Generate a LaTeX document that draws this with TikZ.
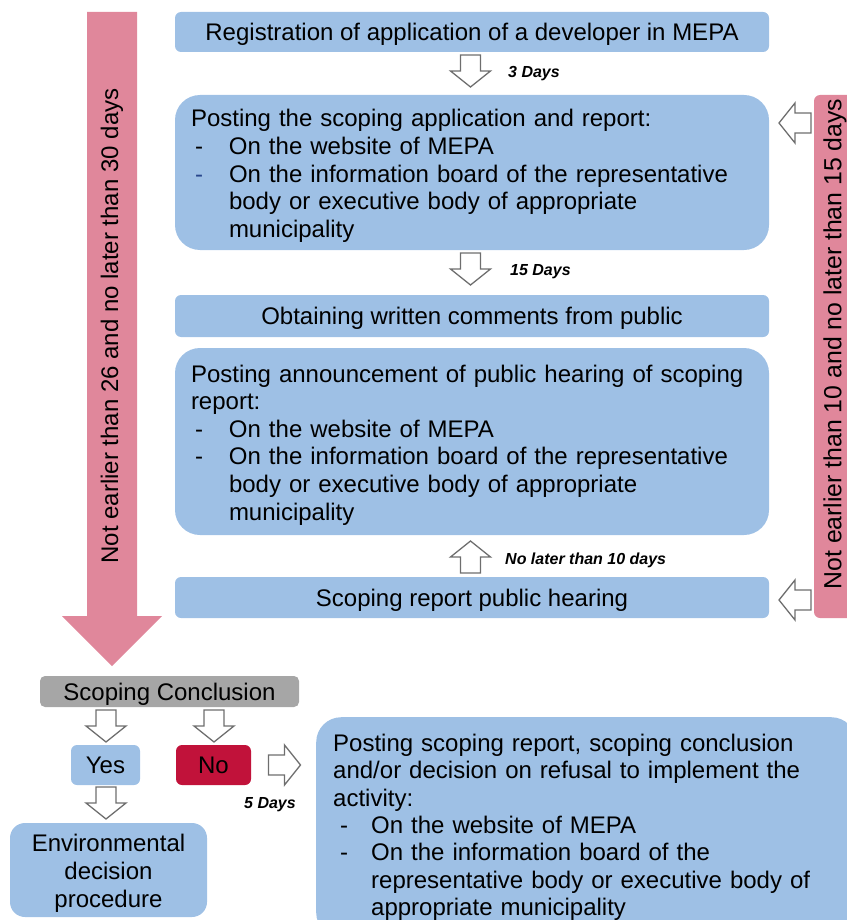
\documentclass[tikz,border=0pt]{standalone}
\usepackage{fontspec}
\setmainfont{Liberation Sans}
\usetikzlibrary{positioning, calc}
\definecolor{stageBlue}{RGB}{158, 192, 229}
\definecolor{termPink}{RGB}{224, 135, 155}
\definecolor{noRed}{RGB}{193, 18, 58}
\definecolor{concGray}{RGB}{166, 166, 166}
\definecolor{arrowGray}{RGB}{110, 110, 110}
\definecolor{dashBlue}{RGB}{40, 70, 140}

\newcommand{\bigtext}{\fontsize{24}{27.6}\selectfont}
\newcommand{\daytext}{\fontsize{16}{18}\selectfont\bfseries\itshape}
\newcommand{\dashline}[1]{\makebox[38pt][l]{\hspace{4pt}-}#1}
\newcommand{\contline}[1]{\hspace*{38pt}#1}
\newcommand{\topgap}{\rule{0pt}{24pt}}

\begin{document}
\begin{tikzpicture}[x=1pt, y=-1pt,
    stage/.style={fill=stageBlue, rounded corners=6pt, minimum width=594pt, inner sep=0pt, text depth=0pt, font=\bigtext},
    bigstage/.style={fill=stageBlue, rounded corners=25pt, minimum width=594pt, text width=562pt, align=left, inner sep=0pt, font=\bigtext},
    days/.style={anchor=west, font=\daytext, inner sep=0pt, text depth=0pt},
    blockarr/.pic={\draw[arrowGray, line width=1.3pt, fill=white, line join=miter]
        (-10,-16) -- (10,-16) -- (10,0) -- (20,0) -- (0,16) -- (-20,0) -- (-10,0) -- cycle;}
]
    \useasboundingbox (0,0) rectangle (846,920);

    % Period bars
    \fill[termPink] (87,12) -- (137,12) -- (137,616) -- (162,616) -- (112,666) -- (62,616) -- (87,616) -- cycle;
    \node[rotate=90, font=\bigtext] (leftterm) at (112,326) {Not earlier than 26 and no later than 30 days};
    \fill[termPink, rounded corners=6pt] (814,95) rectangle (860,618);
    \node[rotate=90, font=\fontsize{24.8}{28}\selectfont] (rightterm) at (835,344) {Not earlier than 10 and no later than 15 days};

    % Main stages
    \node[stage, minimum height=40pt] (reg) at (472,32) {Registration of application of a developer in MEPA};
    \node[bigstage, minimum height=155pt] (postapp) at (472,172.5) {\topgap Posting the scoping application and report:\\
        \dashline{On the website of MEPA}\\
        \makebox[38pt][l]{\hspace{4pt}\textcolor{dashBlue}{-}}On the information board of the representative\\
        \contline{body or executive body of appropriate}\\
        \contline{municipality}};
    \node[stage, minimum height=42pt] (comments) at (472,316) {Obtaining written comments from public};
    \node[bigstage, minimum height=187pt] (announce) at (472,441.5) {\topgap Posting announcement of public hearing of scoping\\
        report:\\
        \dashline{On the website of MEPA}\\
        \dashline{On the information board of the representative}\\
        \contline{body or executive body of appropriate}\\
        \contline{municipality}};
    \node[stage, minimum height=41pt] (hearing) at (472,597.5) {Scoping report public hearing};

    % Conclusion
    \node[fill=concGray, rounded corners=5pt, minimum width=259pt, minimum height=31pt, inner sep=0pt, text depth=0pt, font=\bigtext] (conc) at (169.5,691.5) {Scoping Conclusion};
    \node[fill=stageBlue, rounded corners=6pt, minimum width=69pt, minimum height=40pt, inner sep=0pt, text depth=0pt, font=\bigtext] (yes) at (105.5,765) {Yes};
    \node[fill=noRed, rounded corners=6pt, minimum width=75pt, minimum height=40pt, inner sep=0pt, text depth=0pt, font=\bigtext] (no) at (213.5,765) {No};
    \node[fill=stageBlue, rounded corners=15pt, minimum width=197pt, minimum height=94pt, inner sep=0pt, align=center, font=\bigtext] (envproc) at (108.5,870) {\topgap Environmental\\decision\\procedure};
    \node[fill=stageBlue, rounded corners=25pt, anchor=north west, text width=506pt, align=left, inner xsep=17pt, inner ysep=17pt, font=\fontsize{24}{27.35}\selectfont] (refusal) at (316,717) {Posting scoping report, scoping conclusion\\
        and/or decision on refusal to implement the\\
        activity:\\
        \makebox[38pt][l]{\hspace{7pt}-}On the website of MEPA\\
        \makebox[38pt][l]{\hspace{7pt}-}On the information board of the\\
        \contline{representative body or executive body of}\\
        \contline{appropriate municipality}};

    % Hollow arrows
    \foreach \x/\y/\r in {
        470.5/71/0,
        470.5/269/0,
        470.5/557/180,
        795/123/-90,
        795/600/-90,
        106/726/0,
        214/726/0,
        106/803/0,
        284.5/765/90
    } {
        \pic[rotate=\r] at (\x,\y) {blockarr};
    }

    % Day labels
    \node[days] (d3) at (508,72) {3 Days};
    \node[days] (d15) at (510,270) {15 Days};
    \node[days] (d10) at (505,559) {No later than 10 days};
    \node[days, anchor=center] (d5) at (270,803) {5 Days};

\end{tikzpicture}
\end{document}
